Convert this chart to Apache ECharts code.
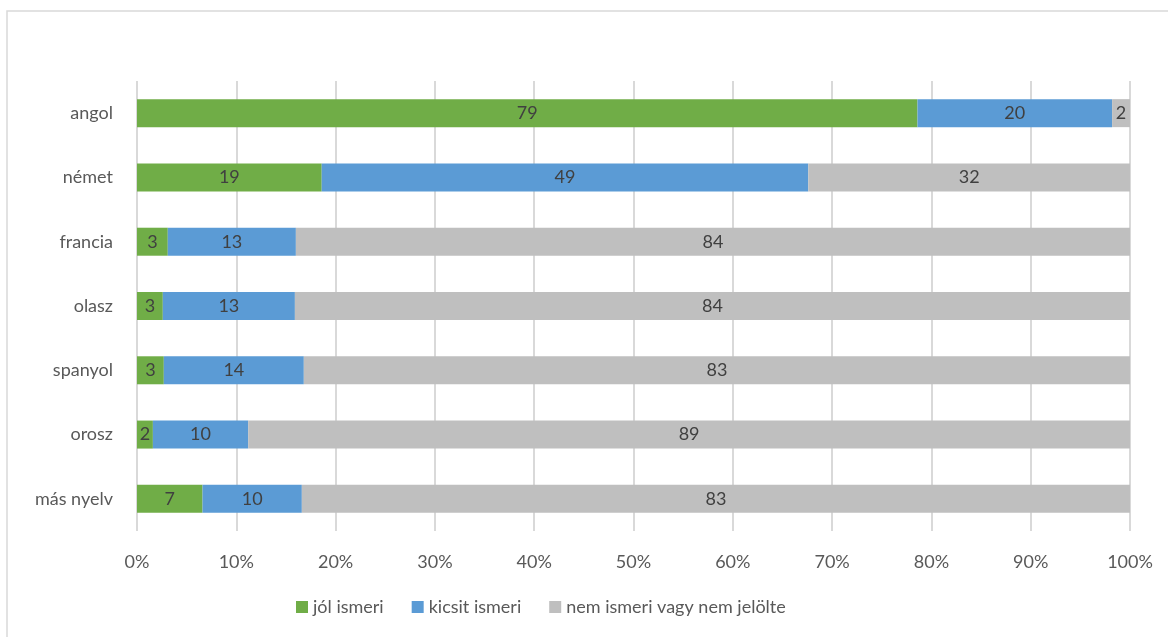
<!DOCTYPE html>
<html><head><meta charset="utf-8">
<script src="https://cdn.jsdelivr.net/npm/echarts@6/dist/echarts.min.js"></script>
<style>html,body{margin:0;padding:0;background:#fff}#c{width:1168px;height:637px}</style>
</head><body><div id="c"></div>
<script>
var categories = ['angol','német','francia','olasz','spanyol','orosz','más nyelv'];
var seriesNames = ['jól ismeri','kicsit ismeri','nem ismeri vagy nem jelölte'];
var jol = [78.6, 18.6, 3.1, 2.6, 2.7, 1.6, 6.6];
var kicsit = [19.6, 49.0, 12.9, 13.3, 14.1, 9.6, 10.0];
var nem = [1.8, 32.4, 84.0, 84.1, 83.2, 88.8, 83.4];
var tickLabels = ['0%','10%','20%','30%','40%','50%','60%','70%','80%','90%','100%'];
var colors = ['#70ad47','#5b9bd5','#bfbfbf'];
var FONT = 'Lato';
var chart = echarts.init(document.getElementById('c'));
function mk(name, data, color){
  return {name:name,type:'bar',stack:'s',data:data,barWidth:28,
    itemStyle:{color:color},
    label:{show:true,position:'inside',color:'#404040',fontFamily:FONT,fontSize:18,
      formatter:function(p){return Math.round(p.value);}}};
}
chart.setOption({
  animation:false,
  textStyle:{fontFamily:FONT},
  color:colors,
  graphic:[{type:'rect',shape:{x:7,y:11,width:1200,height:700},style:{fill:'none',stroke:'#d9d9d9',lineWidth:1.5},silent:true}],
  grid:{left:137,right:38,top:81,bottom:106,containLabel:false},
  legend:{bottom:16,left:291,itemWidth:12,itemHeight:12,itemGap:28,icon:'rect',
    textStyle:{color:'#595959',fontSize:18,fontFamily:FONT},data:seriesNames},
  xAxis:{type:'value',min:0,max:100,interval:10,
    axisLabel:{color:'#595959',fontSize:18,fontFamily:FONT,margin:22,
      formatter:function(v){return tickLabels[Math.round(v/10)];}},
    splitLine:{lineStyle:{color:'#d9d9d9',width:2}},axisLine:{show:false},axisTick:{show:false}},
  yAxis:{type:'category',inverse:true,data:categories,
    axisLabel:{color:'#595959',fontSize:18,fontFamily:FONT,margin:24},
    axisLine:{show:false},axisTick:{show:false}},
  series:[mk(seriesNames[0],jol,colors[0]),mk(seriesNames[1],kicsit,colors[1]),mk(seriesNames[2],nem,colors[2])]
});
</script></body></html>
